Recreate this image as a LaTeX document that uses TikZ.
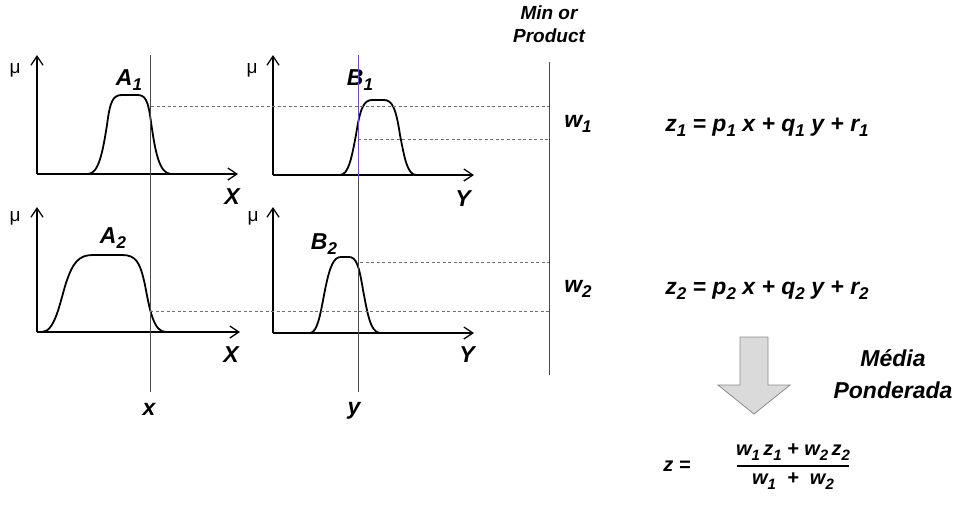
\documentclass[tikz,border=0pt]{standalone}
\usepackage{fontspec}
\setmainfont{Liberation Sans}
\usepackage{xcolor}
\definecolor{guideGray}{HTML}{4A4A4A}
\definecolor{guideViolet}{HTML}{6A4CC8}
\definecolor{cutGray}{HTML}{707070}
\definecolor{arrowFill}{HTML}{DADADA}
\definecolor{arrowLine}{HTML}{8A8A8A}
\usetikzlibrary{arrows.meta}
\newcommand{\lowsub}[1]{\raisebox{-0.45ex}{\fontsize{17}{17}\selectfont #1}}
\newcommand{\fracsub}[1]{\raisebox{-0.45ex}{\fontsize{15}{15}\selectfont #1}}

\begin{document}
\begin{tikzpicture}[x=1pt, y=-1pt,
  axis/.style={line width=1.5pt, -{Straight Barb[length=9pt, width=12pt, line width=1.3pt]}},
  mf/.style={line width=1.8pt, line join=round},
  guide/.style={guideGray, line width=0.9pt},
  cut/.style={cutGray, line width=0.8pt, dash pattern=on 3pt off 2.5pt},
  lbl/.style={font=\fontsize{23}{25}\selectfont\bfseries\itshape, inner sep=0pt},
  frac/.style={font=\fontsize{20}{22}\selectfont\bfseries\itshape, inner sep=0pt},
  mu/.style={font=\fontsize{19}{19}\selectfont, inner sep=0pt}]
  \useasboundingbox (0,0) rectangle (967,507);

  % axes of the four panels
  \draw[axis] (37,174) -- (37,55);   \draw[axis] (37,174) -- (238,174);
  \draw[axis] (273,175) -- (273,55); \draw[axis] (273,175) -- (474,175);
  \draw[axis] (37,332) -- (37,207);  \draw[axis] (37,332) -- (240,332);
  \draw[axis] (273,333) -- (273,207); \draw[axis] (273,333) -- (474,333);

  \node[mu] (muA1) at (15,70) {μ};
  \node[mu] (muB1) at (252,70) {μ};
  \node[mu] (muA2) at (15,218) {μ};
  \node[mu] (muB2) at (253,218) {μ};

  % membership functions
  \draw[mf] (88,174) .. controls (99,174) and (103,150) .. (107,125)
    .. controls (110,101) and (113,95) .. (122,95) -- (137,95)
    .. controls (145,95) and (148,99) .. (151,122)
    .. controls (155,150) and (159,174) .. (171,174);
  \draw[mf] (340,175) .. controls (349,175) and (352,155) .. (356,135)
    .. controls (360,108) and (364,100) .. (372,100) -- (384,100)
    .. controls (392,100) and (396,108) .. (400,135)
    .. controls (404,155) and (407,175) .. (416,175);
  \draw[mf] (42,332) .. controls (55,332) and (60,302) .. (66,283)
    .. controls (73,262) and (79,255) .. (93,255) -- (122,255)
    .. controls (136,255) and (140,262) .. (145,285)
    .. controls (150,312) and (154,332) .. (166,332);
  \draw[mf] (310,333) .. controls (318,333) and (321,310) .. (325,290)
    .. controls (330,265) and (334,257) .. (341,257) -- (349,257)
    .. controls (356,257) and (359,265) .. (363,290)
    .. controls (367,310) and (370,333) .. (380,333);

  \node[lbl] (labA1) at (129,80) {A\lowsub{1}};
  \node[lbl] (labB1) at (360,80) {B\lowsub{1}};
  \node[lbl] (labA2) at (113,238) {A\lowsub{2}};
  \node[lbl] (labB2) at (324,244) {B\lowsub{2}};
  \node[lbl] (axX1) at (232,197) {X};
  \node[lbl] (axY1) at (463,199) {Y};
  \node[lbl] (axX2) at (231,355) {X};
  \node[lbl] (axY2) at (467,355) {Y};

  % inputs and the min line
  \node[lbl] (inX) at (149,409) {x};
  \node[lbl] (inY) at (354,411) {y};
  \coordinate (xTop) at (150,55);
  \coordinate (xBot) at (150,392);
  \coordinate (yTop) at (358,55);
  \coordinate (yMid) at (358,180);
  \coordinate (yBot) at (358,392);
  \draw[guide] (xTop) -- (xBot);
  \draw[guideViolet, line width=0.9pt] (yTop) -- (yMid);
  \draw[guide] (yMid) -- (yBot);

  \node[lbl, align=center, font=\fontsize{19}{23}\selectfont\bfseries\itshape] (minProd) at (549,24) {Min or\\Product};
  \coordinate (minTop) at (549,62);
  \coordinate (minBot) at (549,375);
  \draw[guide] (minTop) -- (minBot);

  % firing strengths
  \coordinate (cutA1) at (151,106); \coordinate (m1) at (549,106);
  \coordinate (cutB1) at (358,139); \coordinate (m2) at (549,139);
  \coordinate (cutB2) at (360,262); \coordinate (m3) at (549,262);
  \coordinate (cutA2) at (150,311); \coordinate (m4) at (549,311);
  \draw[cut] (cutA1) -- (m1);
  \draw[cut] (cutB1) -- (m2);
  \draw[cut] (cutB2) -- (m3);
  \draw[cut] (cutA2) -- (m4);

  \node[lbl] (w1) at (578,124) {w\lowsub{1}};
  \node[lbl] (w2) at (578,289) {w\lowsub{2}};
  \node[lbl] (z1) at (767,127) {z\lowsub{1} = p\lowsub{1} x + q\lowsub{1} y + r\lowsub{1}};
  \node[lbl] (z2) at (767,290) {z\lowsub{2} = p\lowsub{2} x + q\lowsub{2} y + r\lowsub{2}};

  % weighted average
  \filldraw[fill=arrowFill, draw=arrowLine, line width=0.8pt]
    (740,337) -- (768,337) -- (768,385) -- (790,385) -- (754,414)
    -- (718,385) -- (740,385) -- cycle;
  \node[lbl, align=center, font=\fontsize{23}{32}\selectfont\bfseries\itshape] (media) at (893,374) {Média\\Ponderada};

  \node[frac] (zOut) at (677,466) {z =};
  \node[frac] (zNum) at (793,452) {w\fracsub{1}\,z\fracsub{1} + w\fracsub{2}\,z\fracsub{2}};
  \node[frac] (zDen) at (793,481) {w\fracsub{1} ~+~ w\fracsub{2}};
  \draw[line width=1.2pt] (737,466) -- (849,466);
\end{tikzpicture}
\end{document}
